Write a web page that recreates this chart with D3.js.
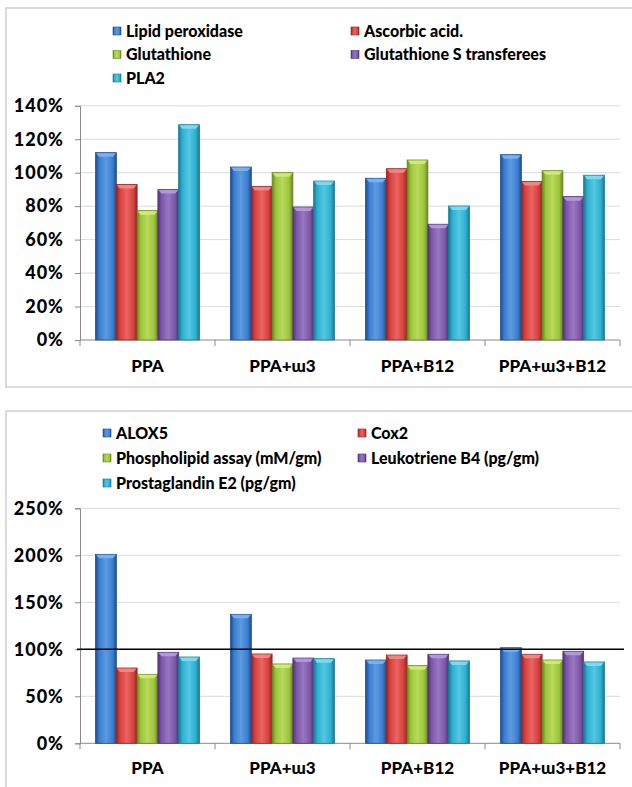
<!DOCTYPE html>
<html>
<head>
<meta charset="utf-8">
<script src="https://cdn.jsdelivr.net/npm/d3@7"></script>
<style>
  html, body { margin: 0; padding: 0; background: #fff; }
  svg { display: block; font-family: Lato, "Open Sans", sans-serif; font-weight: 900; }
</style>
</head>
<body>
<svg id="chart" width="632" height="787"></svg>
<script>
// Treatment groups shared by both panels
const groups = ["PPA", "PPA+ɯ3", "PPA+B12", "PPA+ɯ3+B12"];

// Panel 1: oxidative stress markers (% of control)
const oxidativeSeries = ["Lipid peroxidase", "Ascorbic acid.", "Glutathione", "Glutathione S transferees", "PLA2"];
const lipidPeroxidase = [112, 103.4, 96.7, 110.8];
const ascorbicAcid = [93, 91.7, 102.4, 94.7];
const glutathione = [77.3, 100, 107.6, 101.2];
const glutathioneST = [89.9, 79.5, 69.2, 85.7];
const pla2 = [128.7, 95, 80.1, 98.5];
const oxidativeTicks = [0, 20, 40, 60, 80, 100, 120, 140];

// Panel 2: inflammatory markers (% of control)
const inflammSeries = ["ALOX5", "Cox2", "Phospholipid assay (mM/gm)", "Leukotriene B4 (pg/gm)", "Prostaglandin E2 (pg/gm)"];
const alox5 = [201, 137.2, 88.6, 101.7];
const cox2 = [80.1, 95, 93.9, 94.7];
const phospholipid = [73.4, 84.4, 82.6, 88.6];
const leukotrieneB4 = [96.8, 90.7, 94.7, 97.9];
const prostaglandinE2 = [91.8, 90, 87.6, 86.5];
const inflammTicks = [0, 50, 100, 150, 200, 250];
const referenceLevel = 100;

// Bevelled bar palette: edge, body, highlight, cap
const palette = [
  { dark: "#1d4e93", base: "#3b7ecf", light: "#5d9be0", cap: "#7fb4ee" },
  { dark: "#942423", base: "#d8403d", light: "#e96562", cap: "#f08c8a" },
  { dark: "#68871d", base: "#9dc53a", light: "#b8da5b", cap: "#d3ec7e" },
  { dark: "#4f3478", base: "#7e57a8", light: "#9877c2", cap: "#b79ddb" },
  { dark: "#187a96", base: "#2eb0d0", light: "#54c7e3", cap: "#86dcef" }
];

const svg = d3.select("#chart");
const defs = svg.append("defs");
palette.forEach((c, i) => {
  const g = defs.append("linearGradient").attr("id", "bar" + i)
    .attr("x1", "0%").attr("x2", "100%").attr("y1", "0%").attr("y2", "0%");
  g.append("stop").attr("offset", "0%").attr("stop-color", c.dark);
  g.append("stop").attr("offset", "18%").attr("stop-color", c.base);
  g.append("stop").attr("offset", "50%").attr("stop-color", c.light);
  g.append("stop").attr("offset", "82%").attr("stop-color", c.base);
  g.append("stop").attr("offset", "100%").attr("stop-color", c.dark);
});

const pct = d3.format(".0%");

function drawPanel(cfg) {
  const root = svg.append("g");
  // outer frame
  root.append("rect")
    .attr("x", cfg.frame[0]).attr("y", cfg.frame[1])
    .attr("width", cfg.frame[2]).attr("height", cfg.frame[3])
    .attr("fill", "none").attr("stroke", "#d0d0d0").attr("stroke-width", 1.5);

  const x0 = d3.scaleBand().domain(groups).range([cfg.left, cfg.right])
    .paddingInner(0).paddingOuter(0);
  const barW = x0.bandwidth() / (cfg.series.length + 1.5);
  const x1 = d3.scaleBand().domain(d3.range(cfg.series.length))
    .range([barW * 0.75, barW * 0.75 + barW * cfg.series.length]);
  const y = d3.scaleLinear().domain([0, cfg.max]).range([cfg.bottom, cfg.top]);

  // gridlines
  root.append("g").selectAll("line").data(cfg.ticks.filter(t => t > 0)).join("line")
    .attr("x1", cfg.left).attr("x2", cfg.right)
    .attr("y1", d => y(d)).attr("y2", d => y(d))
    .attr("stroke", "#dadada").attr("stroke-width", 1);

  // y axis
  const yAxis = d3.axisLeft(y).tickValues(cfg.ticks).tickSize(5).tickPadding(11)
    .tickFormat(pct);
  const yg = root.append("g").attr("transform", `translate(${cfg.left},0)`).call(yAxis);
  yg.select(".domain").attr("stroke", "#8a8a8a");
  yg.selectAll(".tick line").attr("stroke", "#8a8a8a");
  yg.selectAll(".tick text").attr("fill", "#000").attr("font-size", 18)
    .attr("letter-spacing", 1)
    .attr("font-family", "Lato, sans-serif").attr("font-weight", 900);

  // x axis with ticks at category boundaries
  const xg = root.append("g").attr("transform", `translate(0,${cfg.bottom})`);
  xg.append("line").attr("x1", cfg.left).attr("x2", cfg.right)
    .attr("stroke", "#8a8a8a");
  const bounds = groups.map(g => x0(g)).concat([cfg.right]);
  xg.selectAll(".bt").data(bounds).join("line").attr("class", "bt")
    .attr("x1", d => d).attr("x2", d => d).attr("y1", 0).attr("y2", 6)
    .attr("stroke", "#8a8a8a");
  xg.selectAll("text").data(groups).join("text")
    .attr("x", d => x0(d) + x0.bandwidth() / 2).attr("y", cfg.labelY - cfg.bottom)
    .attr("dy", "0.35em").attr("text-anchor", "middle")
    .attr("font-size", 17).text(d => d);

  // bars
  cfg.series.forEach((name, si) => {
    const c = palette[si];
    const vals = cfg.values[si];
    const g = root.append("g");
    groups.forEach((grp, gi) => {
      const v = vals[gi] / 100;
      const bx = x0(grp) + x1(si);
      const by = y(v);
      const bh = cfg.bottom - by;
      g.append("rect").attr("x", bx).attr("y", by).attr("width", barW).attr("height", bh)
        .attr("fill", `url(#bar${si})`).attr("stroke", c.dark).attr("stroke-width", 0.8);
      const cap = 4, inset = 3.5;
      g.append("polygon")
        .attr("points", [[bx + 0.5, by + 0.5], [bx + barW - 0.5, by + 0.5],
          [bx + barW - inset, by + cap], [bx + inset, by + cap]].map(p => p.join(",")).join(" "))
        .attr("fill", c.cap).attr("opacity", 0.9);
    });
  });

  // reference line
  if (cfg.refLine != null) {
    root.append("line").attr("x1", cfg.left - 3).attr("x2", cfg.right + 4)
      .attr("y1", y(cfg.refLine / 100)).attr("y2", y(cfg.refLine / 100))
      .attr("stroke", "#000").attr("stroke-width", 1.5);
  }

  // legend
  const lg = root.append("g");
  cfg.series.forEach((name, si) => {
    const col = si % 2, row = Math.floor(si / 2);
    const lx = cfg.legendX[col], ly = cfg.legendY[row];
    lg.append("rect").attr("x", lx).attr("y", ly - 4).attr("width", 8).attr("height", 8)
      .attr("fill", `url(#bar${si})`).attr("stroke", palette[si].dark).attr("stroke-width", 0.6);
    lg.append("text").attr("x", lx + 13).attr("y", ly).attr("dy", "0.35em")
      .attr("font-size", 16).text(name);
  });
}

drawPanel({
  frame: [6, 8, 640, 379],
  left: 80, right: 620, top: 105.8, bottom: 340, max: 1.4,
  ticks: oxidativeTicks.map(t => t / 100), labelY: 366,
  series: oxidativeSeries,
  values: [lipidPeroxidase, ascorbicAcid, glutathione, glutathioneST, pla2],
  legendX: [113, 351], legendY: [31, 54.5, 78]
});

drawPanel({
  frame: [6, 411, 640, 400],
  left: 80, right: 620, top: 508.3, bottom: 743.3, max: 2.5,
  ticks: inflammTicks.map(t => t / 100), labelY: 768,
  series: inflammSeries,
  values: [alox5, cox2, phospholipid, leukotrieneB4, prostaglandinE2],
  refLine: referenceLevel,
  legendX: [103, 358], legendY: [433, 458, 483]
});
</script>
</body>
</html>
